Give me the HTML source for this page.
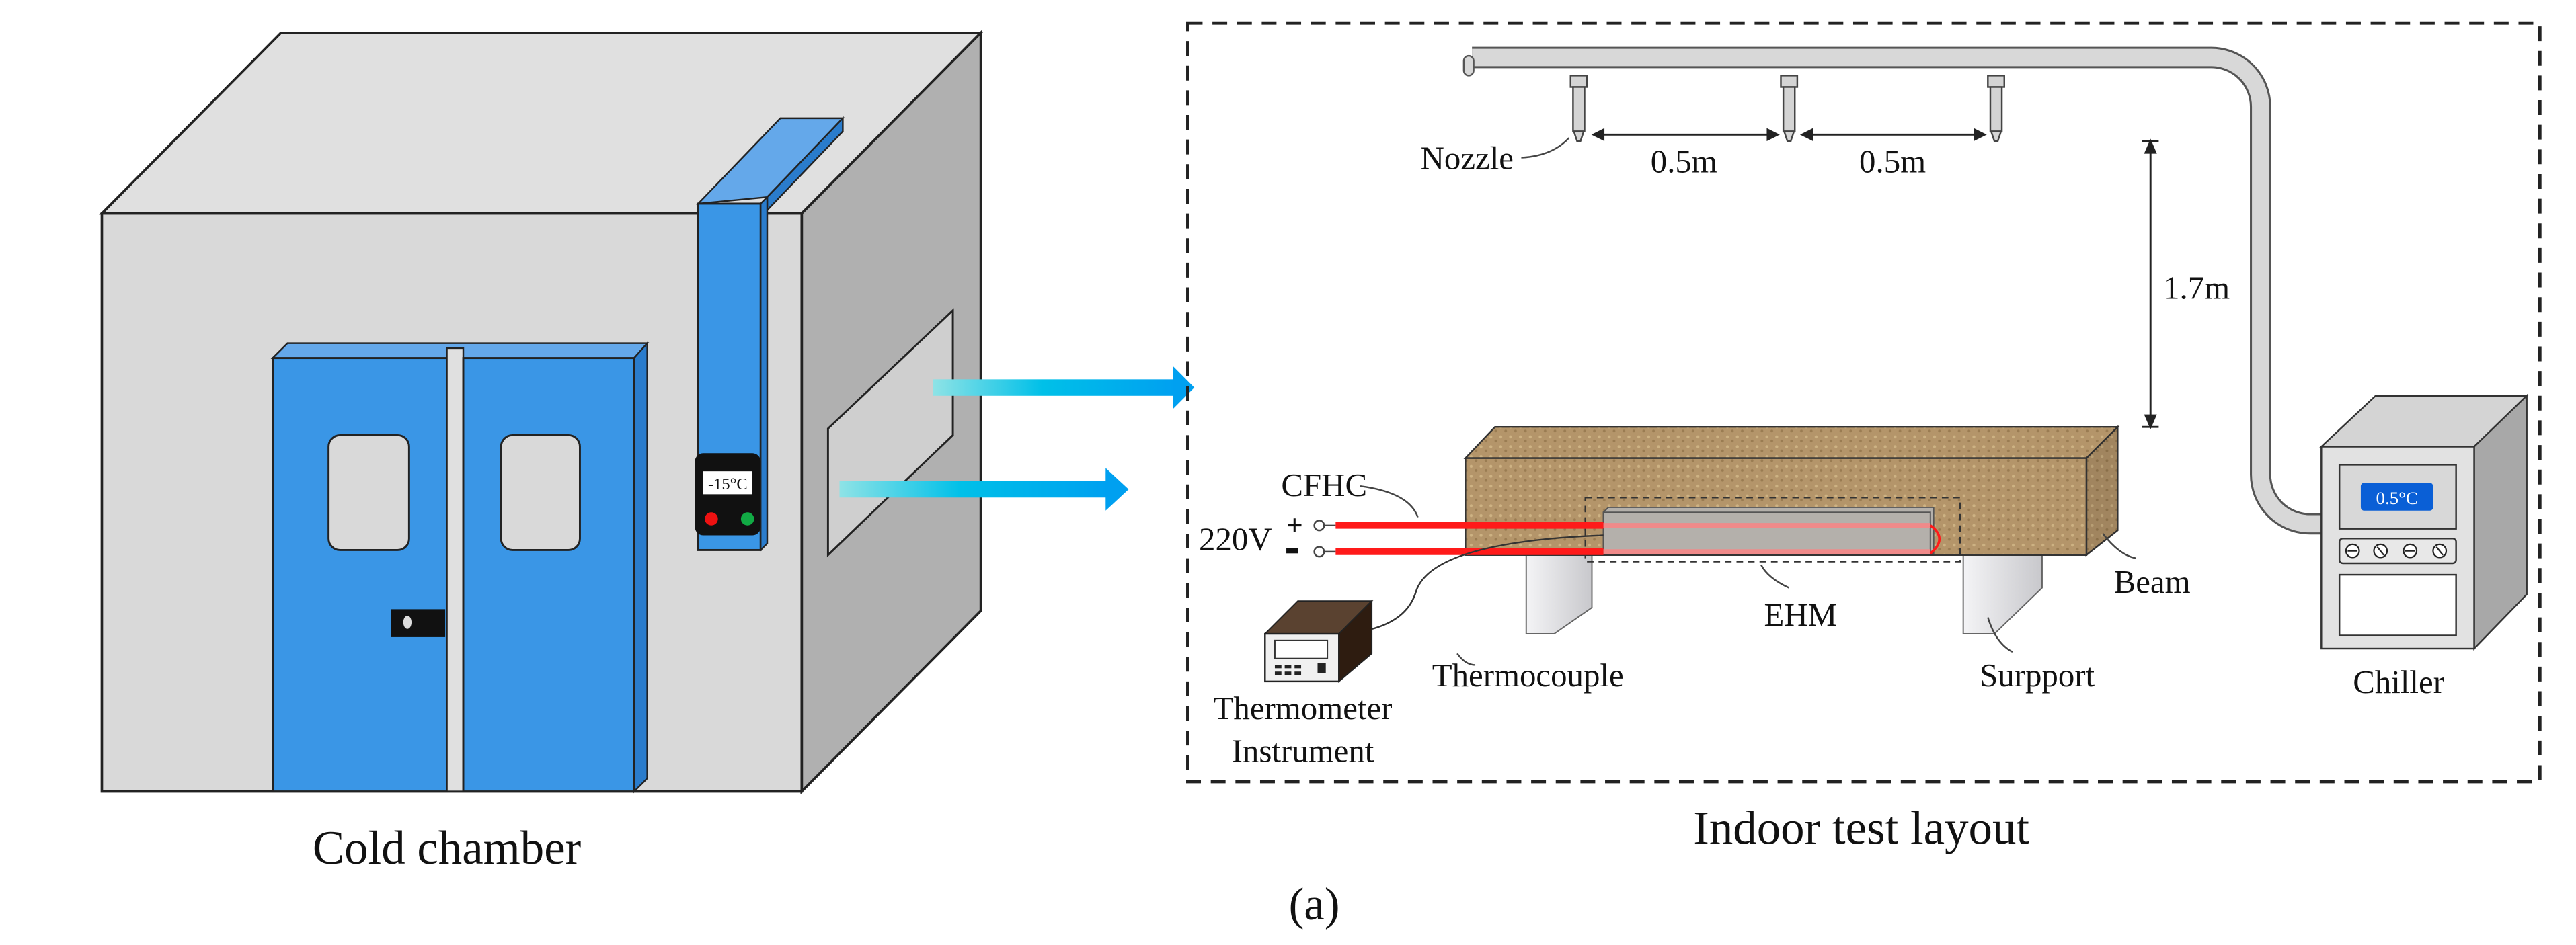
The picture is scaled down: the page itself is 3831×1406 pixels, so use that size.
<!DOCTYPE html>
<html><head><meta charset="utf-8"><style>
html,body{margin:0;padding:0;background:#fff;}
svg{display:block;}
text{font-family:"Liberation Serif",serif;fill:#111;}
</style></head><body>
<svg width="3831" height="1406" viewBox="0 0 1568 575.5" preserveAspectRatio="none" xmlns="http://www.w3.org/2000/svg">
<defs>
<linearGradient id="arr" x1="0" x2="1" y1="0" y2="0">
<stop offset="0" stop-color="#8ee3e6"/><stop offset="0.45" stop-color="#00c0e8"/><stop offset="1" stop-color="#00a0f0"/>
</linearGradient>
<linearGradient id="sup" x1="0" x2="1"><stop offset="0" stop-color="#f4f4f6"/><stop offset="1" stop-color="#c8c8cc"/></linearGradient>
<pattern id="wood" width="6" height="6" patternUnits="userSpaceOnUse">
<rect width="6" height="6" fill="#b4956a"/><circle cx="1.5" cy="2" r="0.9" fill="#cdb283"/><circle cx="4.5" cy="4.5" r="0.8" fill="#9a7c52"/>
</pattern>
</defs>

<!-- Cold chamber -->
<polygon points="62,130 171,20 597,20 488,130" fill="#e0e0e0" stroke="#222" stroke-width="1.5"/>
<polygon points="488,130 597,20 597,372 488,482" fill="#b0b0b0" stroke="#222" stroke-width="1.5"/>
<rect x="62" y="130" width="426" height="352" fill="#d9d9d9" stroke="#222" stroke-width="1.5"/>
<polygon points="504,261 580,189 580,265 504,338" fill="#cfcfcf" stroke="#222" stroke-width="1.2"/>
<polygon points="166,218 175,209 394,209 386,218" fill="#64a8ea" stroke="#222" stroke-width="1"/>
<polygon points="386,218 394,209 394,474 386,482" fill="#2a7ccc" stroke="#222" stroke-width="1"/>
<rect x="166" y="218" width="106" height="264" fill="#3a96e6" stroke="#222" stroke-width="1.2"/>
<rect x="272" y="212" width="10" height="270" fill="#e0e0e0" stroke="#222" stroke-width="1"/>
<rect x="282" y="218" width="104" height="264" fill="#3a96e6" stroke="#222" stroke-width="1.2"/>
<rect x="200" y="265" width="49" height="70" rx="7" fill="#d9d9d9" stroke="#222" stroke-width="1.2"/>
<rect x="305" y="265" width="48" height="70" rx="7" fill="#d9d9d9" stroke="#222" stroke-width="1.2"/>
<rect x="238" y="371" width="33" height="17" fill="#111"/>
<ellipse cx="248" cy="379" rx="2.5" ry="4" fill="#ddd"/>
<polygon points="425,124 467,120 513,72 475,72" fill="#64a8ea" stroke="#222" stroke-width="1"/>
<polygon points="513,72 513,80 467,128 467,120" fill="#2a7ccc" stroke="#222" stroke-width="1"/>
<rect x="425" y="124" width="38" height="211" fill="#3a96e6" stroke="#222" stroke-width="1.2"/>
<polygon points="463,124 467,120 467,331 463,335" fill="#2a7ccc" stroke="#222" stroke-width="1"/>
<rect x="423" y="276" width="40" height="50" rx="5" fill="#111"/>
<rect x="428" y="287" width="30" height="14" fill="#fff"/>
<text x="443" y="298" font-size="10" text-anchor="middle">-15°C</text>
<circle cx="433" cy="316" r="4" fill="#ee1111"/>
<circle cx="455" cy="316" r="4" fill="#11aa44"/>
<text x="272" y="526" font-size="29" text-anchor="middle">Cold chamber</text>
<rect x="568" y="231" width="148" height="10" fill="url(#arr)"/>
<polygon points="714,223 727,236 714,249" fill="#00a0f0"/>
<rect x="511" y="293" width="164" height="10" fill="url(#arr)"/>
<polygon points="673,285 687,298 673,311" fill="#00a0f0"/>

<rect x="723" y="14" width="823" height="462" fill="none" stroke="#222" stroke-width="2" stroke-dasharray="9,6"/>

<path d="M896,35 H1346 A30,30 0 0 1 1376,65 V289 A30,30 0 0 0 1406,319 H1414" fill="none" stroke="#555" stroke-width="13"/>
<path d="M896,35 H1346 A30,30 0 0 1 1376,65 V289 A30,30 0 0 0 1406,319 H1414" fill="none" stroke="#d8d8d8" stroke-width="10.5"/>
<rect x="891" y="34" width="6" height="12" rx="3" fill="#d8d8d8" stroke="#555" stroke-width="1"/>
<g fill="#d4d4d4" stroke="#444" stroke-width="1">
<rect x="956" y="46" width="10" height="7"/><rect x="957.5" y="53" width="7" height="27"/><polygon points="958,80 964,80 962,86 960,86"/>
<rect x="1084" y="46" width="10" height="7"/><rect x="1085.5" y="53" width="7" height="27"/><polygon points="1086,80 1092,80 1090,86 1088,86"/>
<rect x="1210" y="46" width="10" height="7"/><rect x="1211.5" y="53" width="7" height="27"/><polygon points="1212,80 1218,80 1216,86 1214,86"/>
</g>
<g stroke="#222" stroke-width="1.2" fill="#222">
<line x1="970" y1="82" x2="1082" y2="82"/><polygon points="970,82 976,79 976,85"/><polygon points="1082,82 1076,79 1076,85"/>
<line x1="1097" y1="82" x2="1208" y2="82"/><polygon points="1097,82 1103,79 1103,85"/><polygon points="1208,82 1202,79 1202,85"/>
<line x1="1309" y1="86" x2="1309" y2="260"/><polygon points="1309,86 1306,93 1312,93"/><polygon points="1309,260 1306,253 1312,253"/>
<line x1="1304" y1="86" x2="1314" y2="86"/><line x1="1304" y1="260" x2="1314" y2="260"/>
</g>
<path d="M926,96 Q945,95 955,84" fill="none" stroke="#444" stroke-width="1"/>
<text x="893" y="103" font-size="20" text-anchor="middle">Nozzle</text>
<text x="1025" y="105" font-size="20" text-anchor="middle">0.5m</text>
<text x="1152" y="105" font-size="20" text-anchor="middle">0.5m</text>
<text x="1337" y="182" font-size="20" text-anchor="middle">1.7m</text>

<polygon points="929,338 969,338 969,370 946,386 929,386" fill="url(#sup)" stroke="#666" stroke-width="0.8"/>
<polygon points="1195,338 1243,338 1243,358 1214,386 1195,386" fill="url(#sup)" stroke="#666" stroke-width="0.8"/>
<polygon points="892,279 910,260 1289,260 1270,279" fill="url(#wood)" stroke="#333" stroke-width="1"/>
<polygon points="1270,279 1289,260 1289,323 1270,338" fill="url(#wood)" stroke="#333" stroke-width="1"/>
<polygon points="1270,279 1289,260 1289,323 1270,338" fill="#000" opacity="0.1"/>
<rect x="892" y="279" width="378" height="59" fill="url(#wood)" stroke="#333" stroke-width="1"/>
<rect x="965" y="303" width="228" height="39" fill="none" stroke="#333" stroke-width="1" stroke-dasharray="4,3"/>
<polygon points="976,312 979,309 1177,309 1177,337 976,337" fill="#b4b0ab" stroke="#555" stroke-width="0.8"/>
<rect x="976" y="312" width="199" height="25" fill="#b4b0ab" stroke="#555" stroke-width="0.8"/>
<line x1="813" y1="320" x2="976" y2="320" stroke="#ff1a1a" stroke-width="4"/>
<line x1="813" y1="336" x2="976" y2="336" stroke="#ff1a1a" stroke-width="4"/>
<line x1="976" y1="320" x2="1175" y2="320" stroke="#f08a8a" stroke-width="3"/>
<line x1="976" y1="336" x2="1175" y2="336" stroke="#f08a8a" stroke-width="3"/>
<path d="M1175,320 Q1186,328 1175,337" fill="none" stroke="#ff1a1a" stroke-width="1.5"/>
<line x1="806" y1="320" x2="813" y2="320" stroke="#444" stroke-width="1"/>
<line x1="806" y1="336" x2="813" y2="336" stroke="#444" stroke-width="1"/>
<circle cx="803" cy="320" r="3" fill="#fff" stroke="#444" stroke-width="1"/>
<circle cx="803" cy="336" r="3" fill="#fff" stroke="#444" stroke-width="1"/>
<text x="788" y="326" font-size="18" font-weight="bold" text-anchor="middle">+</text>
<rect x="783" y="334" width="7" height="3" fill="#111"/>
<text x="752" y="335" font-size="20" text-anchor="middle">220V</text>
<text x="806" y="302" font-size="20" text-anchor="middle">CFHC</text>
<path d="M828,296 Q858,300 863,315" fill="none" stroke="#444" stroke-width="1"/>
<path d="M815,386 Q855,384 862,360 Q872,330 976,326" fill="none" stroke="#333" stroke-width="1"/>
<polygon points="770,386 790,366 835,366 815,386" fill="#5a4230" stroke="#222" stroke-width="0.8"/>
<polygon points="815,386 835,366 835,398 815,415" fill="#2e1c10" stroke="#222" stroke-width="0.8"/>
<rect x="770" y="386" width="45" height="29" fill="#f0f0f0" stroke="#222" stroke-width="1"/>
<rect x="776" y="390" width="32" height="11" fill="#fff" stroke="#333" stroke-width="0.8"/>
<g fill="#222"><rect x="776" y="405" width="4" height="2"/><rect x="782" y="405" width="4" height="2"/><rect x="788" y="405" width="4" height="2"/><rect x="776" y="409" width="4" height="2"/><rect x="782" y="409" width="4" height="2"/><rect x="788" y="409" width="4" height="2"/><rect x="802" y="404" width="5" height="6"/></g>
<text x="793" y="438" font-size="20" text-anchor="middle">Thermometer</text>
<text x="793" y="464" font-size="20" text-anchor="middle">Instrument</text>
<path d="M887,398 Q892,405 898,405" fill="none" stroke="#444" stroke-width="1"/>
<text x="930" y="418" font-size="20" text-anchor="middle">Thermocouple</text>
<path d="M1072,344 Q1076,352 1089,358" fill="none" stroke="#444" stroke-width="1"/>
<text x="1096" y="381" font-size="20" text-anchor="middle">EHM</text>
<path d="M1280,325 Q1290,338 1300,340" fill="none" stroke="#444" stroke-width="1"/>
<text x="1310" y="361" font-size="20" text-anchor="middle">Beam</text>
<path d="M1210,376 Q1215,392 1225,397" fill="none" stroke="#444" stroke-width="1"/>
<text x="1240" y="418" font-size="20" text-anchor="middle">Surpport</text>

<polygon points="1413,272 1446,241 1538,241 1506,272" fill="#d4d4d4" stroke="#333" stroke-width="1"/>
<polygon points="1506,272 1538,241 1538,362 1506,395" fill="#a8a8a8" stroke="#333" stroke-width="1"/>
<rect x="1413" y="272" width="93" height="123" fill="#e2e2e2" stroke="#333" stroke-width="1"/>
<rect x="1424" y="283" width="71" height="39" fill="#d8d8d8" stroke="#333" stroke-width="1"/>
<rect x="1437" y="294" width="44" height="17" rx="2" fill="#0a5fd6"/>
<text x="1459" y="307" font-size="11" text-anchor="middle" style="fill:#fff">0.5°C</text>
<rect x="1424" y="328" width="71" height="15" rx="2" fill="#e8e8e8" stroke="#333" stroke-width="1"/>
<g fill="#fff" stroke="#222" stroke-width="0.9">
<circle cx="1432" cy="335.5" r="4"/><circle cx="1449" cy="335.5" r="4"/><circle cx="1467" cy="335.5" r="4"/><circle cx="1485" cy="335.5" r="4"/>
</g>
<g stroke="#222" stroke-width="0.9"><line x1="1429" y1="335.5" x2="1435" y2="335.5"/><line x1="1447" y1="333" x2="1451" y2="338"/><line x1="1464" y1="335.5" x2="1470" y2="335.5"/><line x1="1483" y1="333" x2="1487" y2="338"/></g>
<rect x="1424" y="350" width="71" height="37" fill="#fff" stroke="#333" stroke-width="1"/>
<text x="1460" y="422" font-size="20" text-anchor="middle">Chiller</text>

<text x="1133" y="514" font-size="29" text-anchor="middle">Indoor test layout</text>
<text x="800" y="560" font-size="28" text-anchor="middle">(a)</text>
</svg>
</body></html>
